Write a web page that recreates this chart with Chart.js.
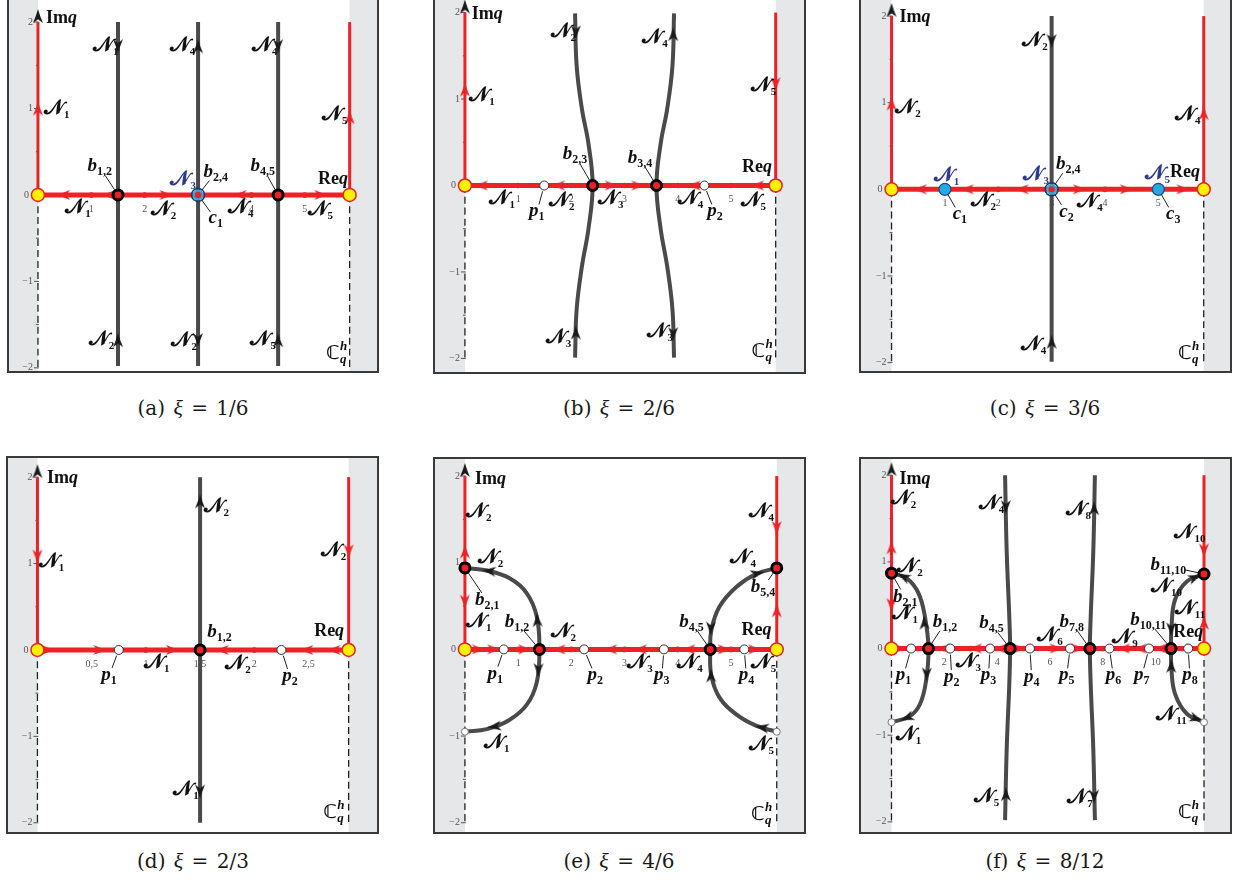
<!DOCTYPE html>
<html>
<head>
<meta charset="utf-8">
<script src="https://cdn.jsdelivr.net/npm/chart.js@4.4.0/dist/chart.umd.min.js"></script>
<style>
  html, body { margin: 0; padding: 0; background: #fff; }
  body { width: 1248px; height: 890px; position: relative; overflow: hidden; }
  canvas { position: absolute; }
  .cap { position: absolute; width: 372px; text-align: center; font-family: "DejaVu Serif", serif;
         font-size: 20px; line-height: 24px; word-spacing: 2px; color: #1a1a1a; }
  .cap i { font-family: "Liberation Serif", serif; font-size: 22px; }
</style>
</head>
<body>
<canvas id="pa" width="372" height="376" style="left:7px;top:-3px"></canvas>
<canvas id="pb" width="373" height="377" style="left:433px;top:-3px"></canvas>
<canvas id="pc" width="373" height="376" style="left:859px;top:-3px"></canvas>
<canvas id="pd" width="373" height="378" style="left:6px;top:456px"></canvas>
<canvas id="pe" width="373" height="377" style="left:433px;top:457px"></canvas>
<canvas id="pf" width="373" height="377" style="left:859px;top:457px"></canvas>

<div class="cap" style="left:7px;top:396px">(a) <i>ξ</i> = 1/6</div>
<div class="cap" style="left:433px;top:396px">(b) <i>ξ</i> = 2/6</div>
<div class="cap" style="left:859px;top:396px">(c) <i>ξ</i> = 3/6</div>
<div class="cap" style="left:7px;top:849px">(d) <i>ξ</i> = 2/3</div>
<div class="cap" style="left:433px;top:849px">(e) <i>ξ</i> = 4/6</div>
<div class="cap" style="left:859px;top:849px">(f) <i>ξ</i> = 8/12</div>

<script>
// Colours used throughout
const RED = '#ec2227';
const GREY = '#4a4a4a';
const BLUE = '#2b3990';

// Direction shorthands for arrowheads: [dx, dy] in data units
const UP = [0, 1], DOWN = [0, -1], LEFT = [-1, 0], RIGHT = [1, 0];
const arr = (x, y, d) => [x, y, d[0], d[1]];

// ---------------- (a) ξ = 1/6 ----------------
const A_VIEW = { x: [-0.58, 6.39], y: [-2.06, 2.29] };
const A_EDGE = 5.84;
const A_XTICKS = [1, 2, 3, 4, 5];
const A_TICKDOTS = [1, 2, 4, 5];
const A_CONTOURS = [
  [[1.5, 2.0], [1.5, -1.98]],
  [[3.0, 2.0], [3.0, -1.98]],
  [[4.5, 2.0], [4.5, -1.98]]
];
const A_SADDLES = [[1.5, 0], [4.5, 0]];
const A_CENTRE_SADDLES = [[3, 0]];
const A_CENTRES = [];
const A_POLES = [];
const A_OPEN_ENDS = [];
const A_RED_ARROWS = [arr(0, 1.0, UP), arr(A_EDGE, 0.9, UP), arr(0.47, 0, LEFT), arr(1.32, 0, LEFT),
  arr(2.41, 0, RIGHT), arr(3.78, 0, LEFT), arr(5.31, 0, RIGHT)];
const A_BLACK_ARROWS = [arr(1.5, 1.72, DOWN), arr(1.5, -1.68, UP), arr(3, 1.72, UP), arr(3, -1.68, DOWN),
  arr(4.5, 1.72, DOWN), arr(4.5, -1.68, UP)];
const A_LABELS = [
  ['Imq', 0.44, 2.05], ['N_1', 0.35, 1.0], ['N_1', 1.27, 1.72], ['N_4', 2.71, 1.72], ['N_4', 4.25, 1.72],
  ['N_5', 5.56, 0.93], ['b_1,2', 1.16, 0.33, 1.5, 0], ['N_3', 2.72, 0.17, null, null, BLUE],
  ['b_2,4', 3.33, 0.27, 3, 0], ['b_4,5', 4.21, 0.33, 4.5, 0], ['Req', 5.53, 0.19],
  ['N_1', 0.75, -0.15], ['N_2', 2.35, -0.17], ['c_1', 3.33, -0.27, 3, 0], ['N_4', 3.8, -0.15],
  ['N_5', 5.29, -0.17], ['N_2', 1.19, -1.68], ['N_2', 2.74, -1.69], ['N_5', 4.22, -1.68], ['C_q^h', 5.59, -1.84]
];

// ---------------- (b) ξ = 2/6 ----------------
const B_VIEW = { x: [-0.6, 6.41], y: [-2.18, 2.18] };
const B_EDGE = 5.84;
const B_XTICKS = [1, 2, 3, 4, 5];
const B_TICKDOTS = [1, 2, 3, 4, 5];
const B_CONTOURS = [
  [[2.07, 1.99], [2.1, 1.38], [2.2, 0.88], [2.32, 0.49], [2.4, 0], [2.32, -0.51], [2.2, -0.93], [2.1, -1.43], [2.07, -1.99]],
  [[3.93, 1.99], [3.9, 1.38], [3.8, 0.88], [3.68, 0.49], [3.6, 0], [3.68, -0.51], [3.8, -0.93], [3.9, -1.43], [3.93, -1.99]]
];
const B_SADDLES = [[2.4, 0], [3.6, 0]];
const B_CENTRE_SADDLES = [];
const B_CENTRES = [];
const B_POLES = [[1.49, 0], [4.5, 0]];
const B_OPEN_ENDS = [];
const B_RED_ARROWS = [arr(0, 1.11, UP), arr(B_EDGE, 1.17, DOWN), arr(0.3, 0, LEFT), arr(1.75, 0, LEFT),
  arr(2.76, 0, RIGHT), arr(3.26, 0, RIGHT), arr(4.3, 0, LEFT), arr(5.49, 0, LEFT)];
const B_BLACK_ARROWS = [arr(2.085, 1.77, DOWN), arr(2.085, -1.7, UP), arr(3.915, 1.75, UP), arr(3.915, -1.72, DOWN)];
const B_LABELS = [
  ['Imq', 0.42, 1.98], ['N_1', 0.32, 1.03], ['N_2', 1.85, 1.77], ['N_4', 3.57, 1.71], ['N_5', 5.61, 1.15],
  ['b_2,3', 2.07, 0.36, 2.4, 0], ['b_3,4', 3.29, 0.32, 3.6, 0], ['Req', 5.49, 0.21],
  ['N_1', 0.7, -0.16], ['p_1', 1.35, -0.3, 1.49, 0], ['N_2', 1.82, -0.18], ['N_3', 2.74, -0.16],
  ['N_4', 4.24, -0.16], ['p_2', 4.7, -0.3, 4.5, 0], ['N_5', 5.42, -0.18],
  ['N_3', 1.76, -1.76], ['N_3', 3.67, -1.7], ['C_q^h', 5.58, -1.93]
];

// ---------------- (c) ξ = 3/6 ----------------
const C_VIEW = { x: [-0.61, 6.38], y: [-2.12, 2.22] };
const C_EDGE = 5.85;
const C_XTICKS = [1, 2, 3, 4, 5];
const C_TICKDOTS = [2, 4];
const C_CONTOURS = [
  [[3.0, 2.0], [3.0, -1.99]]
];
const C_SADDLES = [];
const C_CENTRE_SADDLES = [[3, 0]];
const C_CENTRES = [[1, 0], [5, 0]];
const C_POLES = [];
const C_OPEN_ENDS = [];
const C_RED_ARROWS = [arr(0, 0.99, UP), arr(C_EDGE, 0.88, UP), arr(0.53, 0, LEFT), arr(1.41, 0, LEFT),
  arr(2.44, 0, LEFT), arr(3.53, 0, RIGHT), arr(4.41, 0, RIGHT), arr(5.47, 0, RIGHT)];
const C_BLACK_ARROWS = [arr(3, 1.71, DOWN), arr(3, -1.76, UP)];
const C_LABELS = [
  ['Imq', 0.44, 1.99], ['N_2', 0.31, 0.94], ['N_2', 2.69, 1.71], ['N_4', 5.55, 0.86],
  ['N_1', 1.03, 0.15, null, null, BLUE], ['N_3', 2.71, 0.17, null, null, BLUE], ['b_2,4', 3.31, 0.29, 3, 0],
  ['N_5', 4.98, 0.18, null, null, BLUE], ['Req', 5.5, 0.2],
  ['c_1', 1.28, -0.29, 1, 0], ['N_2', 1.72, -0.14], ['c_2', 3.28, -0.26, 3, 0], ['N_4', 3.72, -0.15],
  ['c_3', 5.28, -0.29, 5, 0], ['N_4', 2.66, -1.8], ['C_q^h', 5.56, -1.9]
];

// ---------------- (d) ξ = 2/3 ----------------
const D_VIEW = { x: [-0.29, 3.15], y: [-2.13, 2.245] };
const D_EDGE = 2.87;
const D_XTICKS = [0.5, 1, 1.5, 2, 2.5];
const D_TICKDOTS = [1, 2];
const D_CONTOURS = [
  [[1.5, 2.0], [1.5, -2.0]]
];
const D_SADDLES = [[1.5, 0]];
const D_CENTRE_SADDLES = [];
const D_CENTRES = [];
const D_POLES = [[0.75, 0], [2.25, 0]];
const D_OPEN_ENDS = [];
const D_RED_ARROWS = [arr(0, 1.08, DOWN), arr(D_EDGE, 1.14, DOWN), arr(0.1, 0, RIGHT), arr(0.58, 0, RIGHT),
  arr(1.25, 0, RIGHT), arr(1.7, 0, LEFT), arr(2.48, 0, LEFT), arr(2.73, 0, LEFT)];
const D_BLACK_ARROWS = [arr(1.5, 1.72, UP), arr(1.5, -1.64, DOWN)];
const D_LABELS = [
  ['Imq', 0.23, 1.99], ['N_1', 0.13, 1.02], ['N_2', 1.65, 1.66], ['N_2', 2.73, 1.14],
  ['b_1,2', 1.68, 0.21], ['Req', 2.69, 0.22],
  ['p_1', 0.66, -0.29, 0.75, 0], ['N_1', 1.1, -0.15], ['N_2', 1.85, -0.16], ['p_2', 2.33, -0.3, 2.25, 0],
  ['N_1', 1.37, -1.62], ['C_q^h', 2.73, -1.89]
];

// ---------------- (e) ξ = 4/6 ----------------
const E_VIEW = { x: [-0.6, 6.41], y: [-2.13, 2.22] };
const E_EDGE = 5.86;
const E_XTICKS = [1, 2, 3, 4, 5];
const E_TICKDOTS = [1, 2, 3, 4, 5];
const E_CONTOURS = [
  [[0, 0.94], [0.41, 0.91], [0.84, 0.82], [1.16, 0.65], [1.35, 0.38], [1.4, 0], [1.35, -0.38], [1.16, -0.64],
   [0.82, -0.82], [0.41, -0.92], [0.02, -0.95]],
  [[E_EDGE, 0.94], [5.47, 0.87], [5.1, 0.72], [4.78, 0.49], [4.63, 0.22], [4.61, 0], [4.63, -0.3], [4.78, -0.55],
   [5.1, -0.75], [5.47, -0.88], [E_EDGE, -0.95]]
];
const E_SADDLES = [[1.4, 0], [4.61, 0], [0, 0.94], [E_EDGE, 0.94]];
const E_CENTRE_SADDLES = [];
const E_CENTRES = [];
const E_POLES = [[0.73, 0], [2.24, 0], [3.74, 0], [5.25, 0]];
const E_OPEN_ENDS = [[0, -0.95], [E_EDGE, -0.95]];
const E_RED_ARROWS = [arr(0, 1.13, UP), arr(0, 0.55, DOWN), arr(E_EDGE, 1.4, DOWN), arr(E_EDGE, 0.45, UP),
  arr(0.26, 0, RIGHT), arr(0.55, 0, RIGHT), arr(1.13, 0, RIGHT), arr(1.76, 0, LEFT), arr(2.73, 0, LEFT),
  arr(3.29, 0, LEFT), arr(4.2, 0, LEFT), arr(4.88, 0, RIGHT), arr(5.45, 0, RIGHT)];
const E_BLACK_ARROWS = [[0.45, 0.905, -1, 0.07], [1.36, 0.34, -0.1, 1], [1.38, -0.24, -0.05, -1], [0.55, -0.89, -1, -0.08],
  [5.5, 0.875, 1, 0.15], [4.62, 0.24, -0.05, -1], [4.625, -0.3, -0.05, 1], [5.58, -0.9, -1, 0.12]];
const E_LABELS = [
  ['Imq', 0.48, 1.97], ['N_2', 0.26, 1.59], ['N_2', 0.48, 1.05], ['b_2,1', 0.42, 0.57, 0, 0.94], ['N_1', 0.26, 0.32],
  ['b_1,2', 0.98, 0.32, 1.4, 0], ['N_2', 1.85, 0.2], ['p_1', 0.57, -0.28, 0.73, 0], ['p_2', 2.45, -0.3, 2.24, 0],
  ['N_3', 3.29, -0.16], ['p_3', 3.7, -0.3, 3.74, 0], ['N_4', 4.23, -0.16], ['b_4,5', 4.26, 0.32, 4.61, 0],
  ['p_4', 5.29, -0.3, 5.25, 0], ['N_5', 5.61, -0.16], ['Req', 5.48, 0.22], ['N_4', 5.57, 1.59], ['N_4', 5.23, 1.05],
  ['b_5,4', 5.6, 0.72, E_EDGE, 0.94], ['N_1', 0.6, -1.08], ['N_5', 5.57, -1.1], ['C_q^h', 5.57, -1.91]
];

// ---------------- (f) ξ = 8/12 ----------------
const F_VIEW = { x: [-1.23, 12.89], y: [-2.14, 2.21] };
const F_EDGE = 11.83;
const F_XTICKS = [2, 4, 6, 8, 10];
const F_TICKDOTS = [1, 2, 3, 4, 5, 6, 7, 8, 9, 10, 11];
const F_CONTOURS = [
  [[0, 0.87], [0.58, 0.81], [1.02, 0.64], [1.27, 0.36], [1.4, 0], [1.31, -0.37], [1.08, -0.64], [0.7, -0.78], [0.01, -0.85]],
  [[4.3, 2.0], [4.36, 1.13], [4.46, 0.36], [4.49, 0], [4.46, -0.4], [4.36, -1.17], [4.3, -1.98]],
  [[7.7, 2.0], [7.64, 1.13], [7.54, 0.36], [7.51, 0], [7.54, -0.4], [7.64, -1.17], [7.7, -1.98]],
  [[F_EDGE, 0.86], [11.17, 0.77], [10.73, 0.56], [10.6, 0.25], [10.58, 0], [10.6, -0.25], [10.73, -0.52],
   [11.17, -0.75], [F_EDGE, -0.85]]
];
const F_SADDLES = [[1.4, 0], [4.49, 0], [7.51, 0], [10.58, 0], [0, 0.87], [F_EDGE, 0.86]];
const F_CENTRE_SADDLES = [];
const F_CENTRES = [];
const F_POLES = [[0.74, 0], [2.22, 0], [3.73, 0], [5.24, 0], [6.76, 0], [8.25, 0], [9.75, 0], [11.23, 0]];
const F_OPEN_ENDS = [[0, -0.85], [F_EDGE, -0.85]];
const F_RED_ARROWS = [arr(0, 1.17, UP), arr(0, 0.5, DOWN), arr(F_EDGE, 1.13, DOWN), arr(F_EDGE, 0.3, UP),
  arr(0.33, 0, RIGHT), arr(1.96, 0, LEFT), arr(3.16, 0, LEFT), arr(4.1, 0, LEFT), arr(4.85, 0, RIGHT),
  arr(6.25, 0, RIGHT), arr(7.06, 0, RIGHT), arr(8.77, 0, LEFT), arr(9.4, 0, LEFT), arr(10.16, 0, LEFT), arr(11.42, 0, RIGHT)];
const F_BLACK_ARROWS = [[0.45, 0.83, -1, 0.15], [1.24, 0.3, -0.15, 1], [1.33, -0.3, -0.1, -1], [0.58, -0.8, -1, -0.12],
  [4.33, 1.63, 0, -1], [4.33, -1.68, 0, 1], [7.67, 1.62, 0, 1], [7.67, -1.71, 0, -1],
  [11.5, 0.82, 1, 0.12], [10.59, 0.22, 0, -1], [10.59, -0.2, 0, 1], [11.55, -0.81, 1, -0.1]];
const F_LABELS = [
  ['Imq', 0.89, 1.96], ['N_2', 0.45, 1.73], ['N_2', 0.7, 0.94], ['b_2,1', 0.52, 0.6, 0, 0.87], ['N_1', 0.52, 0.4],
  ['b_1,2', 2.03, 0.31, 1.4, 0], ['N_4', 3.79, 1.67], ['N_8', 7.07, 1.6], ['N_10', 11.3, 1.33],
  ['b_11,10', 10.48, 0.96, F_EDGE, 0.86], ['N_10', 10.41, 0.71], ['N_11', 11.3, 0.46],
  ['b_4,5', 3.79, 0.29, 4.49, 0], ['b_7,8', 6.82, 0.31, 7.51, 0], ['b_10,11', 9.72, 0.33, 10.58, 0],
  ['N_6', 6.0, 0.14], ['N_9', 8.84, 0.12], ['Req', 11.23, 0.19],
  ['p_1', 0.45, -0.31, 0.74, 0], ['p_2', 2.28, -0.33, 2.22, 0], ['N_3', 2.91, -0.15], ['p_3', 3.67, -0.31, 3.73, 0],
  ['p_4', 5.31, -0.33, 5.24, 0], ['p_5', 6.63, -0.31, 6.76, 0], ['p_6', 8.4, -0.31, 8.25, 0],
  ['p_7', 9.47, -0.31, 9.75, 0], ['p_8', 11.3, -0.31, 11.23, 0],
  ['N_1', 0.64, -1.0], ['N_11', 10.6, -0.77], ['N_5', 3.6, -1.71], ['N_7', 7.14, -1.73], ['C_q^h', 11.23, -1.9]
];

// ---------------- drawing helpers ----------------
function arrowSprite(color, len, wid) {
  const c = document.createElement('canvas');
  c.width = wid + 2; c.height = len + 2;
  const g = c.getContext('2d');
  const cx = c.width / 2;
  g.fillStyle = color;
  g.beginPath();
  g.moveTo(cx, 1);
  g.quadraticCurveTo(cx + wid * 0.18, len * 0.55, cx + wid / 2, len + 1);
  g.lineTo(cx, len * 0.74 + 1);
  g.lineTo(cx - wid / 2, len + 1);
  g.quadraticCurveTo(cx - wid * 0.18, len * 0.55, cx, 1);
  g.closePath();
  g.fill();
  return c;
}
const RED_HEAD = arrowSprite(RED, 14, 10);
const BLACK_HEAD = arrowSprite('#1a1a1a', 14, 10);

const SERIF = '"Liberation Serif","DejaVu Serif",serif';
const CAL = '"DejaVu Serif","DejaVu Sans","Noto Sans",serif';

// Lays out a math-style label (head glyph with sub/superscripts) centred on (cx, cy)
function labelRuns(text) {
  if (text === 'Imq' || text === 'Req') {
    return { runs: [{ s: text.slice(0, 2), f: `bold 18px ${SERIF}` }, { s: 'q', f: `italic bold 18px ${SERIF}` }] };
  }
  if (text.startsWith('C_')) {
    return { runs: [{ s: 'ℂ', f: `bold 19px ${CAL}` }], sub: 'q', sup: 'h', sf: `italic bold 13px ${SERIF}` };
  }
  const i = text.indexOf('_');
  const head = text.slice(0, i), sub = text.slice(i + 1);
  if (head === 'N') return { runs: [{ s: '𝒩', f: `bold 21px ${CAL}` }], sub, sf: `bold 11px ${SERIF}` };
  return { runs: [{ s: head, f: `italic bold 19px ${SERIF}` }], sub, sf: `bold 12px ${SERIF}` };
}

function drawLabel(ctx, text, cx, cy, color) {
  const L = labelRuns(text);
  ctx.save();
  ctx.fillStyle = color || '#111';
  ctx.textBaseline = 'alphabetic';
  ctx.textAlign = 'left';
  let w = 0;
  L.runs.forEach(r => { ctx.font = r.f; r.w = ctx.measureText(r.s).width; w += r.w; });
  let sw = 0;
  if (L.sub) { ctx.font = L.sf; sw = ctx.measureText(L.sub).width; }
  const total = w + sw;
  let x = cx - total / 2;
  const base = cy + 5;
  L.runs.forEach(r => { ctx.font = r.f; ctx.fillText(r.s, x, base); x += r.w; });
  if (L.sub) { ctx.font = L.sf; ctx.fillText(L.sub, x, base + 4); }
  if (L.sup) { ctx.font = L.sf; ctx.fillText(L.sup, x, base - 9); }
  ctx.restore();
  return { x0: cx - total / 2, x1: cx + total / 2, y0: base - 13, y1: base + 5 };
}

function leader(ctx, box, tx, ty) {
  const cx = (box.x0 + box.x1) / 2, cy = (box.y0 + box.y1) / 2;
  const dx = tx - cx, dy = ty - cy;
  const len = Math.hypot(dx, dy);
  if (len < 1) return;
  const hw = (box.x1 - box.x0) / 2 - 2, hh = (box.y1 - box.y0) / 2 - 1;
  const t = Math.min(dx ? hw / Math.abs(dx) : 1e9, dy ? hh / Math.abs(dy) : 1e9);
  const sx = cx + dx * t, sy = cy + dy * t;
  const ex = tx - dx / len * 6, ey = ty - dy / len * 6;
  if ((ex - sx) * dx + (ey - sy) * dy <= 0) return;
  ctx.save();
  ctx.strokeStyle = '#222';
  ctx.lineWidth = 1;
  ctx.beginPath();
  ctx.moveTo(sx, sy);
  ctx.lineTo(ex, ey);
  ctx.stroke();
  ctx.restore();
}

const fmtTick = v => String(v).replace('.', ',');
const headRotation = c => {
  const r = c.raw;
  if (!r) return 0;
  const xs = c.chart.scales.x, ys = c.chart.scales.y;
  const sx = xs.getPixelForValue(r.x + r.dx) - xs.getPixelForValue(r.x);
  const sy = ys.getPixelForValue(r.y + r.dy) - ys.getPixelForValue(r.y);
  return Math.atan2(sx, -sy) * 180 / Math.PI;
};

// Bands, frame, axis ticks and text labels
const panelDecor = {
  id: 'panelDecor',
  beforeDatasetsDraw(chart, args, o) {
    const { ctx, chartArea: a, scales: { x, y } } = chart;
    const x0 = x.getPixelForValue(0), xe = x.getPixelForValue(o.edge);
    ctx.save();
    ctx.fillStyle = '#e6e7e9';
    ctx.fillRect(a.left, a.top, x0 - a.left, a.bottom - a.top);
    ctx.fillRect(xe, a.top, a.right - xe, a.bottom - a.top);
    // vertical axis ticks
    ctx.strokeStyle = '#555';
    ctx.lineWidth = 1;
    ctx.fillStyle = '#555';
    ctx.font = `10px ${SERIF}`;
    ctx.textAlign = 'right';
    ctx.textBaseline = 'middle';
    for (let v = -2; v <= 2; v += 0.5) {
      const py = y.getPixelForValue(v);
      const major = Number.isInteger(v);
      ctx.beginPath();
      ctx.moveTo(x0 - (major ? 4 : 2), py);
      ctx.lineTo(x0 + 1, py);
      ctx.stroke();
      if (major) ctx.fillText(v < 0 ? '−' + Math.abs(v) : String(v), x0 - (v === 0 ? 9 : 5), py);
    }
    // horizontal axis tick labels
    ctx.textAlign = 'center';
    const y0 = y.getPixelForValue(0);
    o.xticks.forEach(v => ctx.fillText(fmtTick(v), x.getPixelForValue(v), y0 + 14));
    ctx.restore();
  },
  afterDatasetsDraw(chart, args, o) {
    const { ctx, chartArea: a, scales: { x, y } } = chart;
    o.labels.forEach(L => {
      const box = drawLabel(ctx, L[0], x.getPixelForValue(L[1]), y.getPixelForValue(L[2]), L[5]);
      if (L[3] !== undefined && L[3] !== null) leader(ctx, box, x.getPixelForValue(L[3]), y.getPixelForValue(L[4]));
    });
    ctx.save();
    ctx.strokeStyle = '#3a3a3a';
    ctx.lineWidth = 2;
    ctx.strokeRect(a.left + 1, a.top + 1, a.right - a.left - 2, a.bottom - a.top - 2);
    ctx.restore();
  }
};

function buildPanel(id, P) {
  const pts = list => list.map(p => ({ x: p[0], y: p[1] }));
  const line = (list, color, width, order, dash) => ({
    data: pts(list), showLine: true, borderColor: color, borderWidth: width, borderDash: dash || [],
    pointRadius: 0, tension: 0.4, fill: false, order
  });
  const marks = (list, radius, bg, border, bw, order) => ({
    data: pts(list), showLine: false, pointRadius: radius, backgroundColor: bg,
    borderColor: border, pointBorderWidth: bw, order
  });
  const heads = (list, sprite, order) => ({
    data: list.map(a => ({ x: a[0], y: a[1], dx: a[2], dy: a[3] })), showLine: false,
    pointStyle: sprite, pointRadius: 6, pointRotation: headRotation, order
  });
  const E = P.edge;
  const datasets = [
    line([[0, 0], [0, -2]], '#222', 1.3, 12, [7, 4]),
    line([[E, 0], [E, -2]], '#222', 1.3, 12, [7, 4]),
    ...P.contours.map(c => line(c, GREY, 4, 11)),
    line([[0, 0], [0, 2.0]], RED, 3, 10),
    line([[E, 0], [E, 2.0]], RED, 3, 10),
    line([[0, 0], [E, 0]], RED, 5, 9),
    marks(P.tickdots.map(v => [v, 0]), 2.8, RED, RED, 0, 8),
    heads(P.red, RED_HEAD, 7),
    heads([...P.black, arr(0, 2.07, UP)], BLACK_HEAD, 6),
    marks(P.openEnds, 3.5, '#fff', '#777', 1, 5),
    marks(P.poles, 4.5, '#fff', '#333', 1, 4),
    marks(P.saddles, 5, RED, '#000', 3, 3),
    marks(P.centreSaddles, 6.5, 'rgba(0,0,0,0)', '#1b3a66', 1.5, 2),
    marks(P.centreSaddles, 4.3, RED, '#29abe2', 2.2, 1),
    marks(P.centres, 6, '#27aae1', '#1c4f8a', 1.3, 1),
    marks([[0, 0], [E, 0]], 6.5, '#fff200', RED, 1.5, 0)
  ];
  return new Chart(document.getElementById(id), {
    type: 'scatter',
    data: { datasets },
    options: {
      responsive: false, animation: false, events: [], devicePixelRatio: 1,
      layout: { padding: 0, autoPadding: false },
      scales: {
        x: { type: 'linear', min: P.view.x[0], max: P.view.x[1], display: false },
        y: { type: 'linear', min: P.view.y[0], max: P.view.y[1], display: false }
      },
      plugins: {
        legend: { display: false }, tooltip: { enabled: false },
        panelDecor: { edge: E, xticks: P.xticks, labels: P.labels }
      }
    },
    plugins: [panelDecor]
  });
}

buildPanel('pa', { view: A_VIEW, edge: A_EDGE, xticks: A_XTICKS, tickdots: A_TICKDOTS, contours: A_CONTOURS,
  saddles: A_SADDLES, centreSaddles: A_CENTRE_SADDLES, centres: A_CENTRES, poles: A_POLES, openEnds: A_OPEN_ENDS,
  red: A_RED_ARROWS, black: A_BLACK_ARROWS, labels: A_LABELS });
buildPanel('pb', { view: B_VIEW, edge: B_EDGE, xticks: B_XTICKS, tickdots: B_TICKDOTS, contours: B_CONTOURS,
  saddles: B_SADDLES, centreSaddles: B_CENTRE_SADDLES, centres: B_CENTRES, poles: B_POLES, openEnds: B_OPEN_ENDS,
  red: B_RED_ARROWS, black: B_BLACK_ARROWS, labels: B_LABELS });
buildPanel('pc', { view: C_VIEW, edge: C_EDGE, xticks: C_XTICKS, tickdots: C_TICKDOTS, contours: C_CONTOURS,
  saddles: C_SADDLES, centreSaddles: C_CENTRE_SADDLES, centres: C_CENTRES, poles: C_POLES, openEnds: C_OPEN_ENDS,
  red: C_RED_ARROWS, black: C_BLACK_ARROWS, labels: C_LABELS });
buildPanel('pd', { view: D_VIEW, edge: D_EDGE, xticks: D_XTICKS, tickdots: D_TICKDOTS, contours: D_CONTOURS,
  saddles: D_SADDLES, centreSaddles: D_CENTRE_SADDLES, centres: D_CENTRES, poles: D_POLES, openEnds: D_OPEN_ENDS,
  red: D_RED_ARROWS, black: D_BLACK_ARROWS, labels: D_LABELS });
buildPanel('pe', { view: E_VIEW, edge: E_EDGE, xticks: E_XTICKS, tickdots: E_TICKDOTS, contours: E_CONTOURS,
  saddles: E_SADDLES, centreSaddles: E_CENTRE_SADDLES, centres: E_CENTRES, poles: E_POLES, openEnds: E_OPEN_ENDS,
  red: E_RED_ARROWS, black: E_BLACK_ARROWS, labels: E_LABELS });
buildPanel('pf', { view: F_VIEW, edge: F_EDGE, xticks: F_XTICKS, tickdots: F_TICKDOTS, contours: F_CONTOURS,
  saddles: F_SADDLES, centreSaddles: F_CENTRE_SADDLES, centres: F_CENTRES, poles: F_POLES, openEnds: F_OPEN_ENDS,
  red: F_RED_ARROWS, black: F_BLACK_ARROWS, labels: F_LABELS });
</script>
</body>
</html>
